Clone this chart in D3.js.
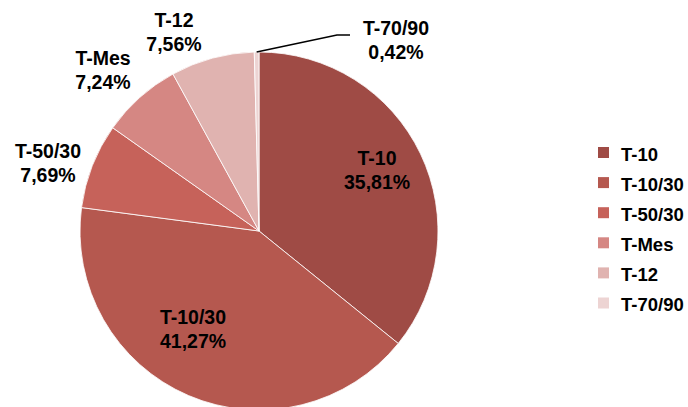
<!DOCTYPE html>
<html><head><meta charset="utf-8">
<script src="https://cdn.jsdelivr.net/npm/d3@7"></script>
<style>body{margin:0;background:#fff;}svg{display:block;font-family:"Liberation Sans",Arial,sans-serif;font-weight:bold;}</style>
</head><body><svg id="c" width="688" height="407"></svg>
<script>
const categories = ["T-10","T-10/30","T-50/30","T-Mes","T-12","T-70/90"];
const values = [35.81, 41.27, 7.69, 7.24, 7.56, 0.42];
const valueLabels = ["35,81%","41,27%","7,69%","7,24%","7,56%","0,42%"];
const colors = ["#9f4b45","#b5584f","#c6625a","#d58783","#e0b3b0","#edd4d3"];

const svg = d3.select("#c");
const cx = 259, cy = 231, r = 179;
const g = svg.append("g").attr("transform", `translate(${cx},${cy})`);
const pie = d3.pie().sort(null).value(d => d)(values);
const arc = d3.arc().innerRadius(0).outerRadius(r);
g.selectAll("path").data(pie).join("path")
  .attr("d", arc).attr("fill", (d,i) => colors[i])
  .attr("stroke", "#fff").attr("stroke-width", 0.8);

// label positions (offsets of first-line baseline relative to center)
const labelPos = [[118,-66],[-66,93],[-211,-73],[-156,-166],[-85,-204],[137,-196]];
pie.forEach((d,i) => {
  const t = g.append("text").attr("text-anchor","middle").attr("font-size",19.5).attr("fill","#000")
    .attr("transform", `translate(${labelPos[i][0]},${labelPos[i][1]})`);
  t.append("tspan").attr("x",0).attr("y",0).text(categories[i]);
  t.append("tspan").attr("x",0).attr("y",23.5).text(valueLabels[i]);
});
// leader line for the smallest slice
const last = pie[5];
const mid = (last.startAngle + last.endAngle)/2;
const p0 = [Math.sin(mid)*r, -Math.cos(mid)*r];
g.append("polyline").attr("points", `${p0[0]},${p0[1]} ${78},${-196} ${91},${-196}`)
  .attr("fill","none").attr("stroke","#000").attr("stroke-width",1.5);

// legend
const leg = svg.append("g").attr("transform","translate(598,147)");
categories.forEach((c,i) => {
  const y = i*30.1;
  leg.append("rect").attr("x",0).attr("y",y).attr("width",11).attr("height",11).attr("fill",colors[i]);
  leg.append("text").attr("x",23).attr("y",y+13.5).attr("font-size",18.5).attr("fill","#000").text(c);
});
</script></body></html>
